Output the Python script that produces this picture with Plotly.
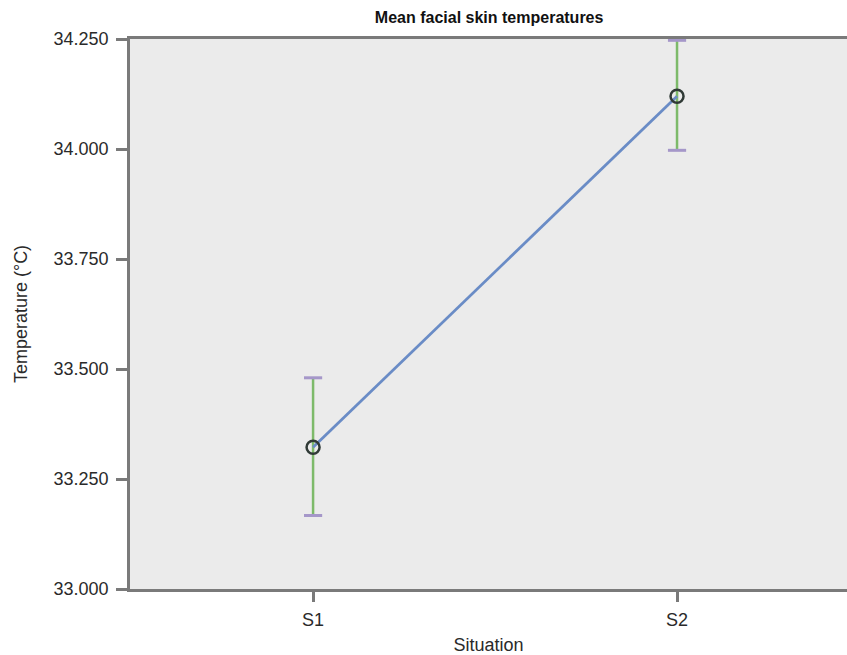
import plotly.graph_objects as go

situations = ["S1", "S2"]
mean_temp = [33.322, 34.120]
err_plus = [0.158, 0.127]
err_minus = [0.155, 0.123]
y_ticks = [33.0, 33.25, 33.5, 33.75, 34.0, 34.25]
y_tick_labels = ["33.000", "33.250", "33.500", "33.750", "34.000", "34.250"]

font_family = "Liberation Sans, Arial, sans-serif"
text_color = "#2a2a2a"
axis_color = "#7a7a7a"

fig = go.Figure()

# error bars (green stems)
fig.add_trace(go.Scatter(
    x=situations, y=mean_temp, mode="markers",
    marker=dict(size=1, color="rgba(0,0,0,0)"),
    error_y=dict(type="data", symmetric=False, array=err_plus, arrayminus=err_minus,
                 color="#7dba6a", thickness=2.5, width=0),
    showlegend=False, hoverinfo="skip",
))

# caps (purple)
cap_y = [m + e for m, e in zip(mean_temp, err_plus)] + [m - e for m, e in zip(mean_temp, err_minus)]
fig.add_trace(go.Scatter(
    x=situations + situations, y=cap_y, mode="markers",
    marker=dict(symbol="line-ew-open", size=13, color="#a597c9", line=dict(color="#a597c9", width=3)),
    showlegend=False, hoverinfo="skip",
))

# mean line
fig.add_trace(go.Scatter(
    x=situations, y=mean_temp, mode="lines",
    line=dict(color="#6a8cc6", width=2.8),
    showlegend=False,
))

# mean markers
fig.add_trace(go.Scatter(
    x=situations, y=mean_temp, mode="markers",
    marker=dict(symbol="circle-open", size=13, color="#303a36", line=dict(color="#303a36", width=2.5)),
    showlegend=False,
))

fig.update_layout(
    width=847, height=655,
    margin=dict(l=130, r=0, t=39, b=66),
    paper_bgcolor="white",
    plot_bgcolor="#ebebeb",
    font=dict(family=font_family, size=18, color=text_color),
    title=dict(text="<b>Mean facial skin temperatures</b>", x=0.5775, xanchor="center",
               y=0.974, yanchor="middle", font=dict(size=16, color="#111111")),
)

fig.update_xaxes(
    type="category", range=[-0.503, 1.467],
    showgrid=False, zeroline=False,
    showline=True, linecolor=axis_color, linewidth=2.5, mirror=True,
    ticks="outside", ticklen=10, tickwidth=2.5, tickcolor=axis_color,
    tickfont=dict(size=18, color=text_color),
    ticklabelstandoff=3,
    title=dict(text="Situation", font=dict(size=18, color=text_color), standoff=12),
)

fig.update_yaxes(
    range=[33.0, 34.25],
    tickvals=y_ticks, ticktext=y_tick_labels,
    showgrid=False, zeroline=False,
    showline=True, linecolor=axis_color, linewidth=2.5,
    ticks="outside", ticklen=11, tickwidth=2.5, tickcolor=axis_color,
    tickfont=dict(size=18, color=text_color),
    ticklabelstandoff=4,
    title=dict(text="Temperature (°C)", font=dict(size=18, color=text_color), standoff=22),
)

fig.write_html(
    "out.html",
    config={"displayModeBar": False},
    post_script="document.body.style.margin='0';document.body.style.overflow='hidden';",
)
